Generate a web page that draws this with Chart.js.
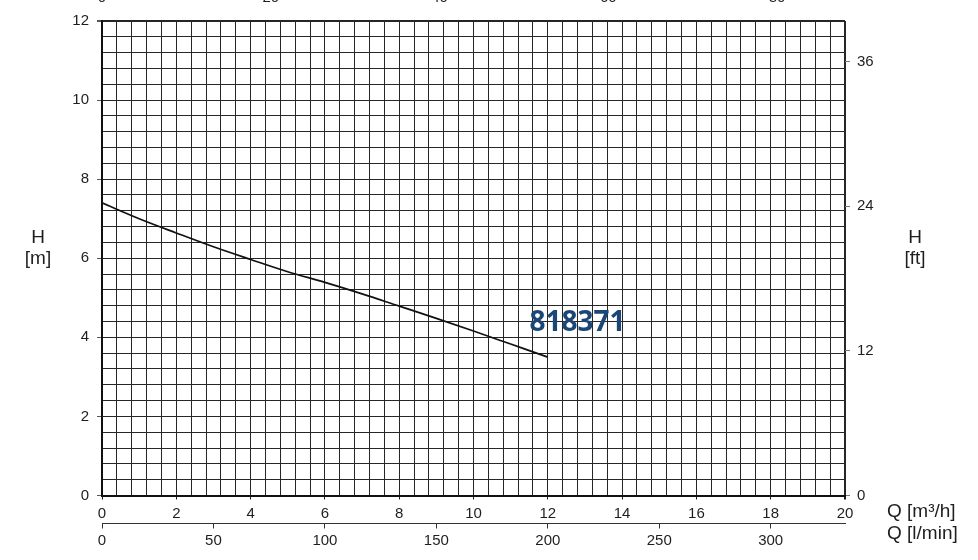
<!DOCTYPE html>
<html>
<head>
<meta charset="utf-8">
<script src="https://cdn.jsdelivr.net/npm/chart.js@4/dist/chart.umd.min.js"></script>
<style>
  html, body { margin: 0; padding: 0; background: #fff; }
  #wrap { width: 978px; height: 560px; }
</style>
</head>
<body>
<div id="wrap"><canvas id="myChart" width="978" height="560"></canvas></div>
<script>
// curve: Q [m3/h] -> H [m]
const flowM3h = [0, 1, 2, 3, 4, 5, 6, 7, 8, 9, 10, 11, 12];
const headM = [7.4, 7.0, 6.64, 6.29, 5.97, 5.66, 5.39, 5.1, 4.79, 4.48, 4.16, 3.83, 3.5];

const qLabels = [0, 2, 4, 6, 8, 10, 12, 14, 16, 18, 20];
const hLabels = [0, 2, 4, 6, 8, 10, 12];
const ftTicks = [0, 12, 24, 36];
const lpmTicks = [0, 50, 100, 150, 200, 250, 300];
const gpmTicks = [0, 20, 40, 60, 80];
const curveName = '818371';

const ink = '#1e1e1e';
const gridInk = '#262626';
const tickFont = { family: 'Arial, "Liberation Sans", sans-serif', size: 15 };

const isLabel = (list, v) => list.some(l => Math.abs(l - v) < 1e-6);
const gridSteps = (max) => {
    const out = [];
    for (let i = 0; i <= Math.round(max / 0.4); i++) out.push({ value: Math.round(i * 4) / 10 });
    return out;
};

const textPlugin = {
    id: 'textPlugin',
    afterDraw(chart) {
        const c = chart.ctx;
        const x = chart.scales.x;
        const y = chart.scales.y;
        c.save();
        c.fillStyle = ink;
        c.textAlign = 'center';
        c.textBaseline = 'middle';
        c.font = '19px Arial, "Liberation Sans", sans-serif';
        c.fillText('H', 38, 238);
        c.fillText('[m]', 38, 259);
        c.fillText('H', 915, 238);
        c.fillText('[ft]', 915, 259);
        c.textAlign = 'left';
        c.fillText('Q [m³/h]', 887, 512);
        c.fillText('Q [l/min]', 887, 534);

        // top US gpm axis, cut off by the picture edge
        c.textAlign = 'center';
        c.textBaseline = 'alphabetic';
        c.font = '15px Arial, "Liberation Sans", sans-serif';
        gpmTicks.forEach(g => {
            c.fillText(String(g), x.getPixelForValue(g / 4.40287), 1.5);
        });

        c.fillStyle = '#1a4777';
        c.font = 'bold 28px "Open Sans", sans-serif';
        c.textBaseline = 'middle';
        c.fillText(curveName, x.getPixelForValue(12.8), y.getPixelForValue(4.36));
        c.restore();
    }
};

const ctx = document.getElementById('myChart').getContext('2d');
const myChart = new Chart(ctx, {
    type: 'line',
    data: {
        datasets: [{
            data: flowM3h.map((q, i) => ({ x: q, y: headM[i] })),
            borderColor: '#111',
            borderWidth: 1.7,
            pointRadius: 0,
            cubicInterpolationMode: 'monotone',
            xAxisID: 'x',
            yAxisID: 'y'
        }]
    },
    options: {
        responsive: false,
        devicePixelRatio: 1,
        animation: false,
        layout: { padding: { left: 70, right: 93, top: 21, bottom: 0 } },
        plugins: { legend: { display: false }, tooltip: { enabled: false } },
        scales: {
            x: {
                type: 'linear',
                position: 'bottom',
                min: 0,
                max: 20,
                afterBuildTicks: s => { s.ticks = gridSteps(20); },
                afterFit: s => { s.height = 28; },
                ticks: {
                    autoSkip: false,
                    maxRotation: 0,
                    padding: 5,
                    color: ink,
                    font: tickFont,
                    callback: v => isLabel(qLabels, v) ? String(v) : ''
                },
                grid: {
                    color: gridInk,
                    lineWidth: c => (c.tick && c.tick.value === 20 ? 2 : 1),
                    tickLength: 4,
                    tickColor: c => (c.tick && isLabel(qLabels, c.tick.value) ? ink : 'rgba(0,0,0,0)')
                },
                border: { display: true, color: '#111', width: 2 }
            },
            x2: {
                type: 'linear',
                position: 'bottom',
                min: 0,
                max: 20 * 1000 / 60,
                afterBuildTicks: s => { s.ticks = lpmTicks.map(v => ({ value: v })); },
                afterFit: s => { s.height = 36.5; },
                ticks: { autoSkip: false, maxRotation: 0, padding: 3, color: ink, font: tickFont },
                grid: { drawOnChartArea: false, tickLength: 5, tickColor: '#333' },
                border: { display: true, color: '#333', width: 1 }
            },
            y: {
                type: 'linear',
                position: 'left',
                min: 0,
                max: 12,
                afterBuildTicks: s => { s.ticks = gridSteps(12); },
                afterFit: s => { s.width = 32; },
                ticks: {
                    autoSkip: false,
                    padding: 8,
                    color: ink,
                    font: tickFont,
                    callback: v => isLabel(hLabels, v) ? String(v) : ''
                },
                grid: {
                    color: gridInk,
                    lineWidth: c => (c.tick && c.tick.value === 12 ? 2 : 1),
                    tickLength: 5,
                    tickColor: c => (c.tick && isLabel(hLabels, c.tick.value) ? '#555' : 'rgba(0,0,0,0)')
                },
                border: { display: true, color: '#111', width: 2 }
            },
            y2: {
                type: 'linear',
                position: 'right',
                min: 0,
                max: 12 * 3.28084,
                afterBuildTicks: s => { s.ticks = ftTicks.map(v => ({ value: v })); },
                afterFit: s => { s.width = 40; },
                ticks: { autoSkip: false, padding: 7, color: ink, font: tickFont },
                grid: { drawOnChartArea: false, tickLength: 5, tickColor: '#777' },
                border: { display: false }
            }
        }
    },
    plugins: [textPlugin]
});
</script>
</body>
</html>
